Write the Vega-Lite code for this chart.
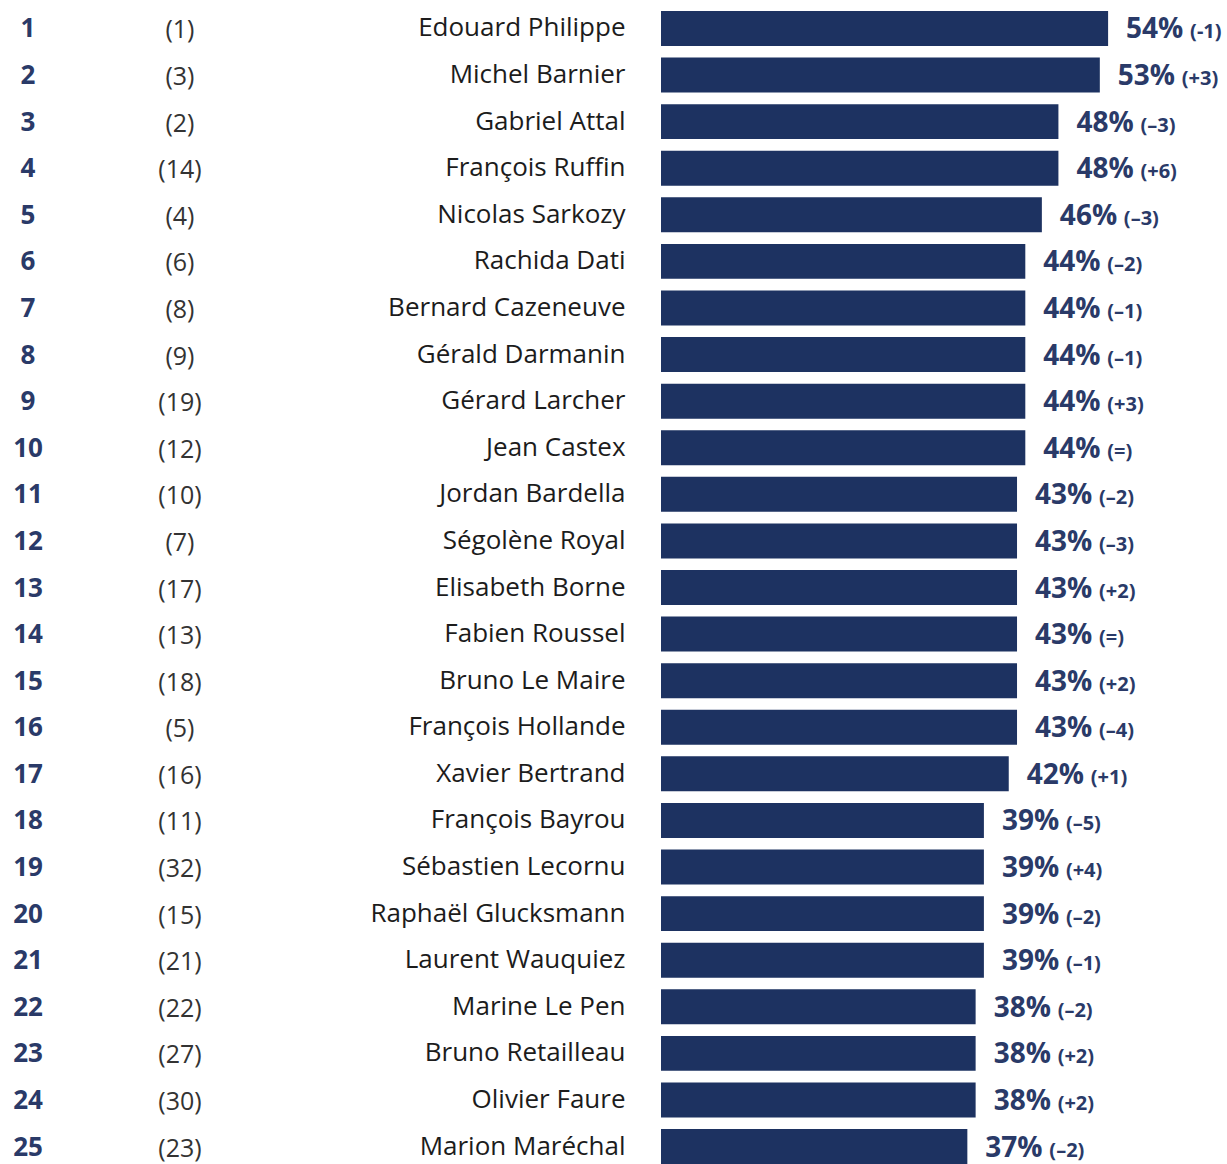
{
  "$schema": "https://vega.github.io/schema/vega-lite/v6.json",
  "width": 566,
  "height": 1153,
  "autosize": {"type": "none"},
  "padding": {"left": 661, "top": 11, "right": 0, "bottom": 0},
  "background": "white",
  "config": {"view": {"stroke": null}},
  "data": {
    "values": [
      {"rank": 1, "prev": "(1)", "name": "Edouard Philippe", "pct": 54, "change": "(-1)"},
      {"rank": 2, "prev": "(3)", "name": "Michel Barnier", "pct": 53, "change": "(+3)"},
      {"rank": 3, "prev": "(2)", "name": "Gabriel Attal", "pct": 48, "change": "(–3)"},
      {"rank": 4, "prev": "(14)", "name": "François Ruffin", "pct": 48, "change": "(+6)"},
      {"rank": 5, "prev": "(4)", "name": "Nicolas Sarkozy", "pct": 46, "change": "(–3)"},
      {"rank": 6, "prev": "(6)", "name": "Rachida Dati", "pct": 44, "change": "(–2)"},
      {"rank": 7, "prev": "(8)", "name": "Bernard Cazeneuve", "pct": 44, "change": "(–1)"},
      {"rank": 8, "prev": "(9)", "name": "Gérald Darmanin", "pct": 44, "change": "(–1)"},
      {"rank": 9, "prev": "(19)", "name": "Gérard Larcher", "pct": 44, "change": "(+3)"},
      {"rank": 10, "prev": "(12)", "name": "Jean Castex", "pct": 44, "change": "(=)"},
      {"rank": 11, "prev": "(10)", "name": "Jordan Bardella", "pct": 43, "change": "(–2)"},
      {"rank": 12, "prev": "(7)", "name": "Ségolène Royal", "pct": 43, "change": "(–3)"},
      {"rank": 13, "prev": "(17)", "name": "Elisabeth Borne", "pct": 43, "change": "(+2)"},
      {"rank": 14, "prev": "(13)", "name": "Fabien Roussel", "pct": 43, "change": "(=)"},
      {"rank": 15, "prev": "(18)", "name": "Bruno Le Maire", "pct": 43, "change": "(+2)"},
      {"rank": 16, "prev": "(5)", "name": "François Hollande", "pct": 43, "change": "(–4)"},
      {"rank": 17, "prev": "(16)", "name": "Xavier Bertrand", "pct": 42, "change": "(+1)"},
      {"rank": 18, "prev": "(11)", "name": "François Bayrou", "pct": 39, "change": "(–5)"},
      {"rank": 19, "prev": "(32)", "name": "Sébastien Lecornu", "pct": 39, "change": "(+4)"},
      {"rank": 20, "prev": "(15)", "name": "Raphaël Glucksmann", "pct": 39, "change": "(–2)"},
      {"rank": 21, "prev": "(21)", "name": "Laurent Wauquiez", "pct": 39, "change": "(–1)"},
      {"rank": 22, "prev": "(22)", "name": "Marine Le Pen", "pct": 38, "change": "(–2)"},
      {"rank": 23, "prev": "(27)", "name": "Bruno Retailleau", "pct": 38, "change": "(+2)"},
      {"rank": 24, "prev": "(30)", "name": "Olivier Faure", "pct": 38, "change": "(+2)"},
      {"rank": 25, "prev": "(23)", "name": "Marion Maréchal", "pct": 37, "change": "(–2)"}
    ]
  },
  "encoding": {
    "y": {
      "field": "name",
      "type": "nominal",
      "sort": {"field": "rank", "order": "ascending"},
      "scale": {"paddingInner": 0.25, "paddingOuter": 0, "align": 0},
      "axis": {
        "title": null,
        "ticks": false,
        "domain": false,
        "labelFont": "Open Sans",
        "labelFontSize": 26,
        "labelFontWeight": 500,
        "labelColor": "#1c1c1c",
        "labelPadding": 36,
        "labelLimit": 0
      }
    }
  },
  "layer": [
    {
      "mark": {"type": "bar", "color": "#1d3261"},
      "encoding": {
        "x": {
          "field": "pct",
          "type": "quantitative",
          "scale": {"domain": [0, 68.36], "nice": false, "zero": false},
          "axis": null
        }
      }
    },
    {
      "mark": {"type": "text", "align": "left", "baseline": "middle", "dx": 18, "dy": 2, "font": "Open Sans", "fontWeight": "bold", "fontSize": 28, "color": "#2a3a68", "text": {"expr": "datum.pct + '%'"}},
      "encoding": {
        "x": {"field": "pct", "type": "quantitative"}
      }
    },
    {
      "mark": {"type": "text", "align": "left", "baseline": "middle", "dx": 82, "dy": 4, "font": "Open Sans", "fontWeight": "bold", "fontSize": 20, "color": "#2a3a68"},
      "encoding": {
        "x": {"field": "pct", "type": "quantitative"},
        "text": {"field": "change"}
      }
    },
    {
      "mark": {"type": "text", "align": "center", "baseline": "middle", "dy": 1, "font": "Open Sans", "fontWeight": "bold", "fontSize": 26, "color": "#2a3a68"},
      "encoding": {
        "x": {"datum": -76.45, "type": "quantitative"},
        "text": {"field": "rank", "type": "quantitative"}
      }
    },
    {
      "mark": {"type": "text", "align": "center", "baseline": "middle", "dy": 2, "font": "Open Sans", "fontSize": 25, "color": "#333333"},
      "encoding": {
        "x": {"datum": -58.1, "type": "quantitative"},
        "text": {"field": "prev"}
      }
    }
  ]
}
